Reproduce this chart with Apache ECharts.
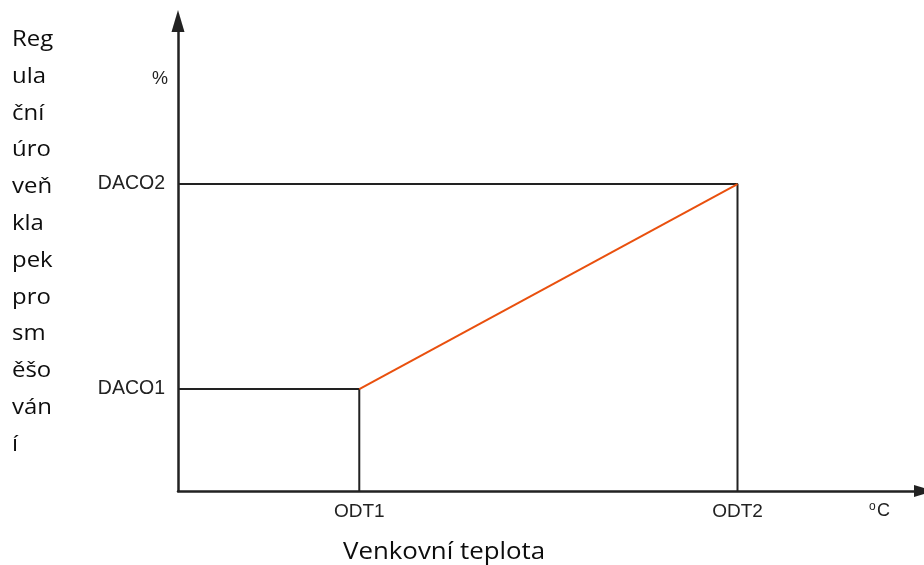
<!DOCTYPE html>
<html>
<head>
<meta charset="utf-8">
<script src="https://cdn.jsdelivr.net/npm/echarts@6/dist/echarts.min.js"></script>
<style>
  html, body { margin: 0; padding: 0; background: #ffffff; }
  #chart { width: 924px; height: 565px; }
</style>
</head>
<body>
<div id="chart"></div>
<script>
// Outdoor temperature break points (x) and damper levels (y), axis units 0..100
const odtNames = ['ODT1', 'ODT2'];
const odtValues = [24.3, 75.0];
const dacoNames = ['DACO1', 'DACO2'];
const dacoValues = [21.7, 65.3];

// Y title, wrapped in a narrow column
const yTitleLines = ['Reg', 'ula', 'ční', 'úro', 'veň', 'kla', 'pek', 'pro', 'sm', 'ěšo', 'ván', 'í'];
const xTitle = 'Venkovní teplota';
const yUnit = '%';
const xUnit = ['o', 'C'];

const ink = '#222222';
const curveColor = '#E9500E';

const chart = echarts.init(document.getElementById('chart'), null, { renderer: 'canvas' });

const labelFont = 'Liberation Sans, Arial, sans-serif';
const titleFont = '"Open Sans", "Noto Sans", sans-serif';

const graphics = [];
yTitleLines.forEach((line, i) => {
  graphics.push({
    type: 'text', x: 12, y: 40 + i * 36.8, scaleX: 1.14,
    style: { text: line, font: '21px ' + titleFont, fill: '#0d0d0d', verticalAlign: 'middle', align: 'left' }
  });
});
graphics.push({
  type: 'text', x: 343, y: 552, scaleX: 1.1,
  style: { text: xTitle, font: '23.5px ' + titleFont, fill: '#0d0d0d', verticalAlign: 'middle', align: 'left' }
});
graphics.push({
  type: 'text', x: 160, y: 79,
  style: { text: yUnit, font: '18px ' + labelFont, fill: ink, verticalAlign: 'middle', align: 'center' }
});
graphics.push({
  type: 'text', x: 869, y: 507,
  style: { text: xUnit[0], font: '12px ' + labelFont, fill: ink, verticalAlign: 'middle', align: 'left' }
});
graphics.push({
  type: 'text', x: 877, y: 511,
  style: { text: xUnit[1], font: '18px ' + labelFont, fill: ink, verticalAlign: 'middle', align: 'left' }
});

const guideStyle = { color: ink, width: 2 };

chart.setOption({
  animation: false,
  backgroundColor: '#ffffff',
  grid: { left: 178, right: -2, top: 21, bottom: 74, containLabel: false },
  xAxis: {
    type: 'value', min: 0, max: 100,
    axisLine: { show: true, onZero: false, symbol: ['none', 'triangle'], symbolSize: [12, 20],
      lineStyle: { color: ink, width: 2.5 } },
    axisTick: { show: false },
    splitLine: { show: false },
    axisLabel: {
      customValues: odtValues,
      formatter: v => odtNames[odtValues.indexOf(v)],
      color: ink, fontFamily: labelFont, fontSize: 19, margin: 11
    }
  },
  yAxis: {
    type: 'value', min: 0, max: 100,
    axisLine: { show: true, onZero: false, symbol: ['none', 'triangle'], symbolSize: [13, 22],
      lineStyle: { color: ink, width: 2.5 } },
    axisTick: { show: false },
    splitLine: { show: false },
    axisLabel: {
      customValues: dacoValues,
      formatter: v => dacoNames[dacoValues.indexOf(v)],
      color: ink, fontFamily: labelFont, fontSize: 19.5, margin: 13
    }
  },
  series: [
    {
      type: 'line', symbol: 'none', lineStyle: guideStyle, z: 2,
      data: [[0, dacoValues[1]], [odtValues[1], dacoValues[1]], [odtValues[1], 0]]
    },
    {
      type: 'line', symbol: 'none', lineStyle: guideStyle, z: 2,
      data: [[0, dacoValues[0]], [odtValues[0], dacoValues[0]], [odtValues[0], 0]]
    },
    {
      type: 'line', symbol: 'none', lineStyle: { color: curveColor, width: 2 }, z: 3,
      data: [[odtValues[0], dacoValues[0]], [odtValues[1], dacoValues[1]]]
    }
  ],
  graphic: graphics
});
</script>
</body>
</html>
